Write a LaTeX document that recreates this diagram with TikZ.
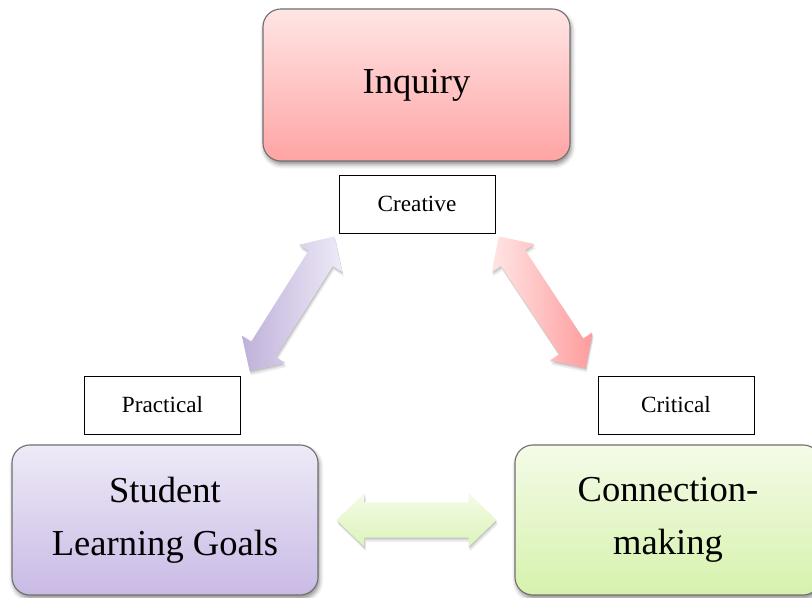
\documentclass[tikz,border=0pt]{standalone}
\usepackage{fontspec}
\setmainfont{Liberation Serif}
\usetikzlibrary{calc,shadows.blur}

\definecolor{inqTop}{RGB}{255,229,229}
\definecolor{inqBot}{RGB}{255,164,164}
\definecolor{slgTop}{RGB}{238,234,247}
\definecolor{slgBot}{RGB}{201,186,229}
\definecolor{cmTop}{RGB}{244,251,232}
\definecolor{cmBot}{RGB}{214,242,172}
\definecolor{boxLine}{RGB}{112,112,112}

\begin{document}
\begin{tikzpicture}[
	x=0.025cm, y=-0.025cm,
	Big/.style={draw=boxLine, line width=0.8pt, rounded corners=0.45cm,
		minimum width=7.65cm, minimum height=3.75cm, align=center,
		font=\fontsize{26}{37.5}\selectfont,
		blur shadow={shadow xshift=1pt, shadow yshift=-2.5pt,
			shadow blur radius=3pt, shadow opacity=45}},
	Lbl/.style={draw, line width=0.6pt, fill=white,
		minimum width=3.9cm, minimum height=1.45cm, inner sep=0pt,
		font=\fontsize{16.5}{19}\selectfont},
	Arr/.style={x=1cm, y=1cm},
	ArrShade/.style={preaction={fill=black, opacity=0.07,
			transform canvas={xshift=1pt, yshift=-3pt}},
		preaction={fill=black, opacity=0.09,
			transform canvas={xshift=0.6pt, yshift=-1.8pt}},
		preaction={fill=black, opacity=0.1,
			transform canvas={xshift=0.3pt, yshift=-0.8pt}}},
	]
	\useasboundingbox (0,0) rectangle (812,598);
	\clip (0,0) rectangle (812,598);

	% the three main boxes
	\node [Big, top color=inqTop, bottom color=inqBot, minimum width=7.675cm,
		minimum height=3.8cm] (inq) at (416.5,85) {Inquiry};
	\node [Big, top color=slgTop, bottom color=slgBot] (slg) at (165,520)
		{Student\\Learning Goals};
	\node [Big, top color=cmTop, bottom color=cmBot] (cm) at (668,520)
		{Connection-\\making};

	% labels
	\node [Lbl] (cre) at (417,204) {Creative};
	\node [Lbl] (pra) at (162.5,405) {Practical};
	\node [Lbl] (cri) at (676,405) {Critical};

	% double arrows between the boxes
	\coordinate (a1) at ($(cre.south west)!0.5!(pra.north east)+(2.3,-0.7)$);
	\coordinate (a2) at ($(cre.south east)!0.5!(cri.north west)+(-4.3,-2.3)$);
	\coordinate (a3) at ($(slg.east)!0.5!(cm.west)$);

	\begin{scope}[Arr, shift={(a1)}, rotate=57.8]
		\path [ArrShade, left color=slgBot!95!black, right color=slgTop]
		(-1.99,0) -- (-1.34,0.64) -- (-1.34,0.36) -- (1.34,0.36) -- (1.34,0.64)
		-- (1.99,0) -- (1.34,-0.64) -- (1.34,-0.36) -- (-1.34,-0.36)
		-- (-1.34,-0.64) -- cycle;
	\end{scope}
	\begin{scope}[Arr, shift={(a2)}, rotate=-56.6]
		\path [ArrShade, left color=inqTop, right color=inqBot!95!red]
		(-1.97,0) -- (-1.32,0.64) -- (-1.32,0.36) -- (1.32,0.36) -- (1.32,0.64)
		-- (1.97,0) -- (1.32,-0.64) -- (1.32,-0.36) -- (-1.32,-0.36)
		-- (-1.32,-0.64) -- cycle;
	\end{scope}
	\begin{scope}[Arr, shift={(a3)}]
		\path [ArrShade, top color=cmTop, bottom color=cmBot!85!white]
		(-2,0) -- (-1.3,0.675) -- (-1.3,0.44) -- (1.3,0.44) -- (1.3,0.675)
		-- (2,0) -- (1.3,-0.675) -- (1.3,-0.44) -- (-1.3,-0.44)
		-- (-1.3,-0.675) -- cycle;
	\end{scope}
\end{tikzpicture}
\end{document}
